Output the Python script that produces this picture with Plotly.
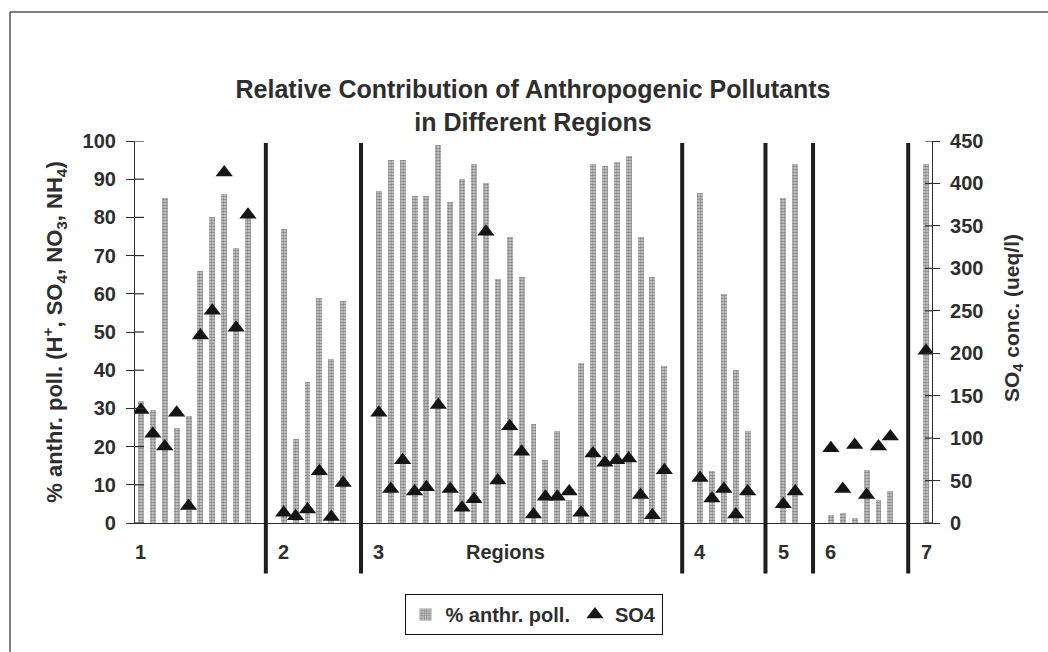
import plotly.graph_objects as go

# Percentage of anthropogenic pollutants per sampling site, grouped by region
region_names = ["1", "2", "3", "4", "5", "6", "7"]
pct_r1 = [32, 29.5, 85, 25, 28, 66, 80, 86, 72, 80]
pct_r2 = [77, 22, 37, 59, 43, 58]
pct_r3 = [87, 95, 95, 85.5, 85.5, 99, 84, 90, 94, 89, 64, 75, 64.5, 26, 16.5,
          24, 6, 42, 94, 93.5, 94.5, 96, 75, 64.5, 41]
pct_r4 = [86.5, 13.5, 60, 40, 24]
pct_r5 = [85, 94]
pct_r6 = [2, 2.5, 1.3, 14, 6, 8.5]
pct_r7 = [94]

# SO4 concentration (ueq/l) at the same sites
so4_r1 = [133, 105, 90, 130, 20, 221, 250, 413, 230, 363]
so4_r2 = [12, 8, 16, 61, 7, 47]
so4_r3 = [130, 40, 74, 37, 42, 139, 40, 18, 28, 343, 50, 114, 84, 10, 31,
          31, 37, 12, 82, 71, 74, 76, 33, 9, 62]
so4_r4 = [53, 29, 40, 10, 37]
so4_r5 = [22, 37]
so4_r6 = [88, 40, 92, 33, 90, 102]
so4_r7 = [203]

left_ticks = list(range(0, 101, 10))
right_ticks = list(range(0, 451, 50))

pct_groups = [pct_r1, pct_r2, pct_r3, pct_r4, pct_r5, pct_r6, pct_r7]
so4_groups = [so4_r1, so4_r2, so4_r3, so4_r4, so4_r5, so4_r6, so4_r7]

# Sites are laid out on consecutive slots, two empty slots between regions
GAP = 2
xs, pct, so4 = [], [], []
region_start, dividers = [], []
pos = 0
for i, (pg, sg) in enumerate(zip(pct_groups, so4_groups)):
    if i > 0:
        dividers.append(pos - 1 + (GAP + 1) / 2)
        pos += GAP
    region_start.append(pos)
    for p, s in zip(pg, sg):
        xs.append(pos)
        pct.append(p)
        so4.append(s)
        pos += 1
n_slots = pos

FONT = "Liberation Sans, Arial, sans-serif"
INK = "#2e2e2e"

fig = go.Figure()
fig.add_trace(go.Bar(
    x=xs, y=pct, name="% anthr. poll.", width=0.5,
    marker=dict(color="#d2d2d2", line=dict(width=0),
                pattern=dict(shape=".", fgcolor="#404040", bgcolor="#d2d2d2",
                             size=3, solidity=0.6)),
))
fig.add_trace(go.Scatter(
    x=xs, y=so4, name="SO4", mode="markers", yaxis="y2",
    marker=dict(symbol="triangle-up", size=15, color="#151515"),
))

shapes = []
# thick region separators
for d in dividers:
    shapes.append(dict(type="line", xref="x", yref="paper", x0=d, x1=d,
                       y0=-0.132, y1=0.995, line=dict(color="#1e1e1e", width=4)))
# inner halves of the crossing tick marks
for t in left_ticks:
    shapes.append(dict(type="line", xref="paper", yref="y", x0=0, x1=9 / 797,
                       y0=t, y1=t, line=dict(color=INK, width=1.2)))
for t in right_ticks:
    shapes.append(dict(type="line", xref="paper", yref="y2", x0=1 - 7 / 797, x1=1,
                       y0=t, y1=t, line=dict(color=INK, width=1.2)))
# page frame (top and left edges)
shapes.append(dict(type="line", xref="paper", yref="paper",
                   x0=(10 - 135) / 797, x1=(1048 - 135) / 797,
                   y0=(523 - 12) / 382, y1=(523 - 12) / 382,
                   line=dict(color="#555", width=1.5)))
shapes.append(dict(type="line", xref="paper", yref="paper",
                   x0=(10 - 135) / 797, x1=(10 - 135) / 797,
                   y0=(523 - 12) / 382, y1=(523 - 652) / 382,
                   line=dict(color="#555", width=1.5)))

label_font = dict(family=FONT, size=20, color=INK, weight="bold")
annotations = []
for name, start in zip(region_names, region_start):
    annotations.append(dict(x=start, y=-0.075, xref="x", yref="paper", text=name,
                            showarrow=False, xanchor="center", yanchor="middle",
                            font=label_font))
annotations.append(dict(x=(505 - 135) / 797, y=-0.075, xref="paper", yref="paper",
                        text="Regions", showarrow=False, xanchor="center",
                        yanchor="middle", font=label_font))
# right-hand axis title
annotations.append(dict(x=(1013 - 135) / 797, y=(523 - 318) / 382, xref="paper",
                        yref="paper", text="SO<sub>4</sub> conc. (ueq/l)",
                        textangle=-90, showarrow=False, xanchor="center",
                        yanchor="middle",
                        font=dict(family=FONT, size=21, color=INK, weight="bold")))

fig.update_layout(
    width=1048, height=652,
    margin=dict(l=135, r=116, t=141, b=129),
    paper_bgcolor="white", plot_bgcolor="white",
    title=dict(text="Relative Contribution of Anthropogenic Pollutants<br>in Different Regions",
               x=533 / 1048, xanchor="center", y=1 - 98 / 652, yanchor="middle",
               font=dict(family=FONT, size=25, color=INK, weight="bold")),
    font=dict(family=FONT, color=INK),
    xaxis=dict(range=[-0.5, n_slots - 0.5], showticklabels=False, ticks="",
               showgrid=False, zeroline=False, showline=True,
               linecolor=INK, linewidth=1.2),
    yaxis=dict(range=[0, 100], tickvals=left_ticks, ticks="outside", ticklen=8,
               tickcolor=INK, tickwidth=1.2, showgrid=False, zeroline=False,
               showline=True, linecolor=INK, linewidth=1.2, ticklabelstandoff=6,
               tickfont=dict(family=FONT, size=20, color=INK, weight="bold"),
               title=dict(text="% anthr. poll. (H<sup>+</sup>, SO<sub>4</sub>, NO<sub>3</sub>, NH<sub>4</sub>)",
                          standoff=13,
                          font=dict(family=FONT, size=22, color=INK, weight="bold"))),
    yaxis2=dict(range=[0, 450], tickvals=right_ticks, overlaying="y", side="right",
                ticks="outside", ticklen=7, tickcolor=INK, tickwidth=1.2,
                showgrid=False, zeroline=False, showline=True, linecolor=INK,
                linewidth=1.2, ticklabelstandoff=6,
                tickfont=dict(family=FONT, size=20, color=INK, weight="bold")),
    legend=dict(orientation="h", x=0.5, xanchor="center", y=-0.186, yanchor="top",
                bgcolor="white", bordercolor="#111", borderwidth=1, itemwidth=30,
                font=dict(family=FONT, size=20, color=INK, weight="bold")),
    shapes=shapes, annotations=annotations, bargap=0,
)

fig.write_html("out.html")
